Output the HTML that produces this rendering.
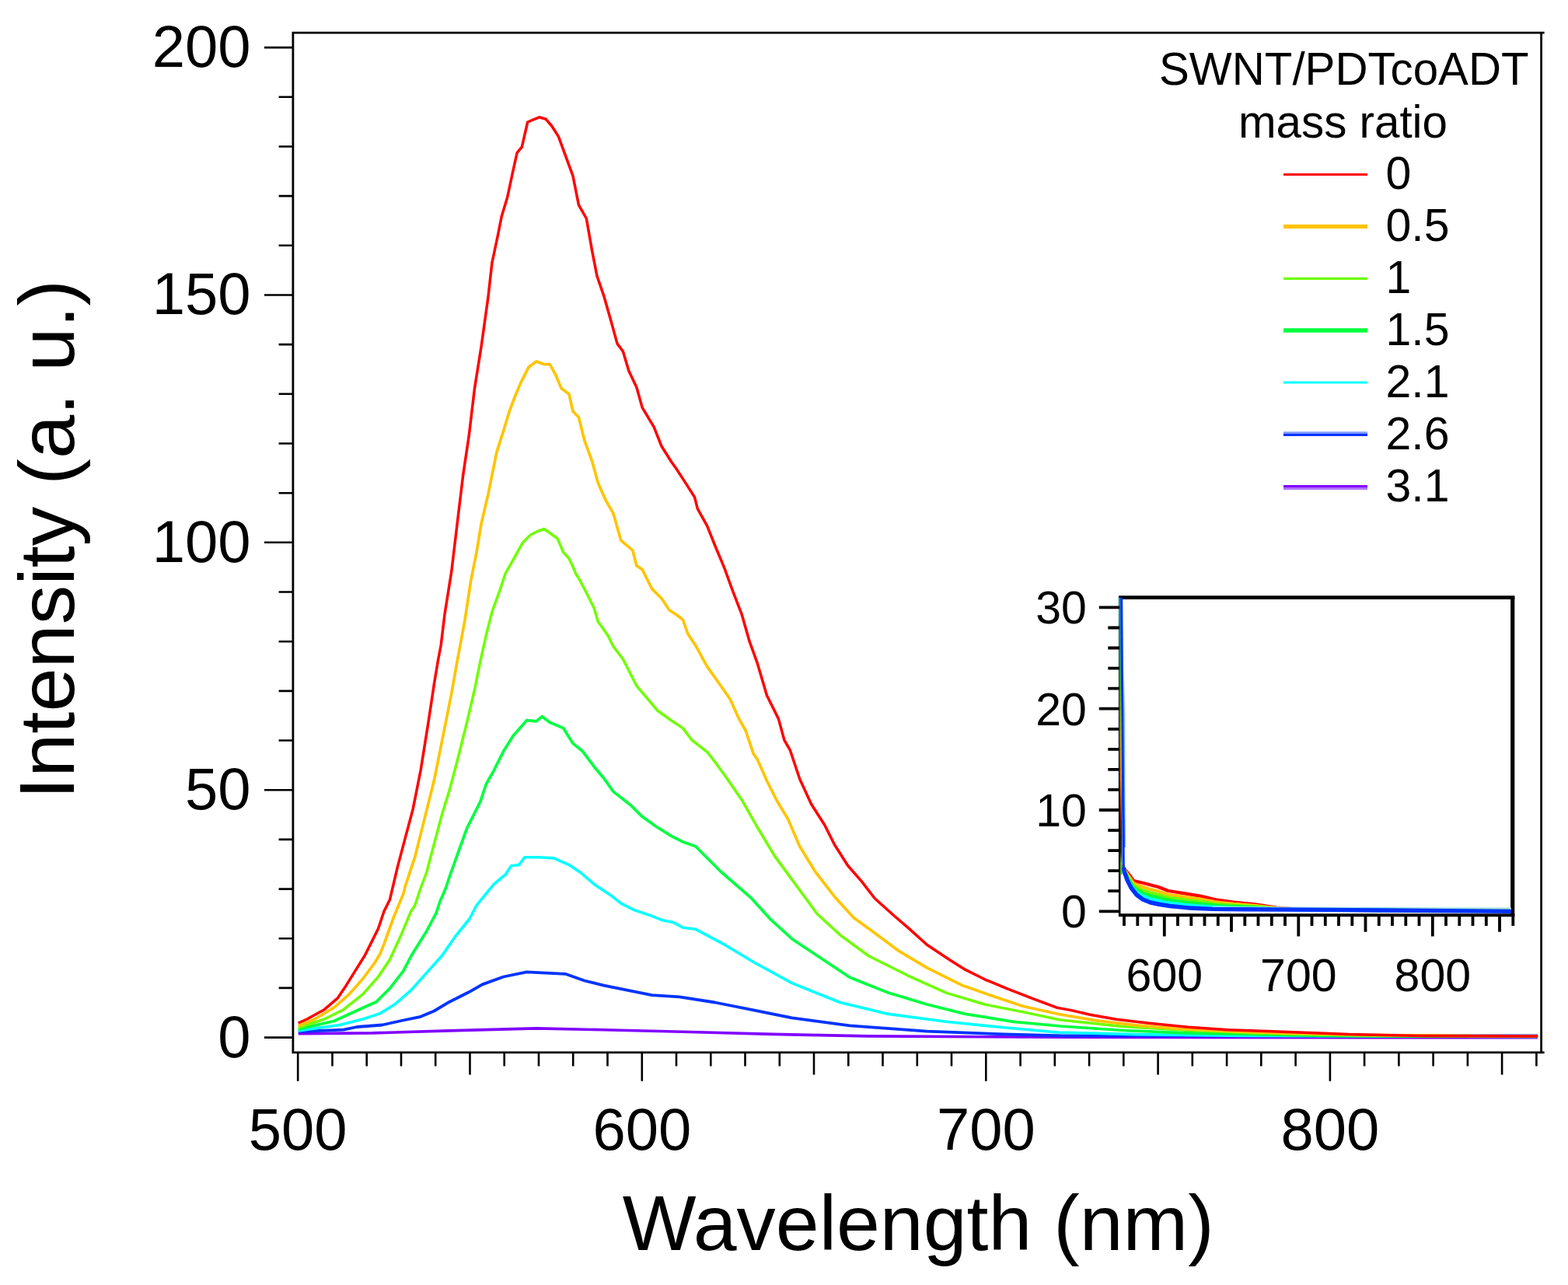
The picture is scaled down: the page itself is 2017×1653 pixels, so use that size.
<!DOCTYPE html>
<html><head><meta charset="utf-8"><title>Intensity vs Wavelength</title>
<style>html,body{margin:0;padding:0;background:#fff;}svg{display:block;}</style>
</head><body>
<svg width="2017" height="1653" viewBox="0 0 2017 1653"><rect x="0" y="0" width="2017" height="1653" fill="#fff"/>
<polyline points="383.7,1329.6 479.2,1328.9 578.3,1325.9 689.9,1322.9 776.6,1324.7 878.3,1327.2 994.0,1330.4 1117.9,1332.9 1368.3,1334.2 1978.0,1334.8" fill="none" stroke="#8000ff" stroke-width="3.6" stroke-linejoin="round"/>
<polyline points="383.7,1327.2 442.0,1324.7 459.3,1321.0 491.6,1318.5 516.3,1313.0 541.1,1307.8 558.5,1300.5 578.3,1288.7 603.1,1276.3 620.5,1266.4 647.7,1256.5 677.5,1250.3 702.3,1251.6 727.1,1252.8 751.8,1261.5 776.6,1267.7 813.8,1275.1 838.6,1280.1 874.0,1282.3 919.6,1289.5 969.2,1299.4 1018.7,1309.4 1093.1,1319.3 1192.3,1326.7 1291.4,1330.4 1368.3,1332.3 1978.0,1332.3" fill="none" stroke="#0033ff" stroke-width="3.8" stroke-linejoin="round"/>
<polyline points="383.7,1325.9 437.0,1318.5 466.8,1311.0 489.1,1303.6 508.9,1291.2 528.7,1273.9 548.6,1251.6 568.4,1229.5 585.8,1204.5 604.0,1182.0 613.0,1164.7 635.3,1137.4 650.2,1125.0 657.6,1113.8 667.6,1112.6 675.0,1102.7 692.3,1102.7 712.2,1103.9 732.0,1112.6 746.9,1122.5 764.2,1137.4 786.5,1152.3 798.9,1162.2 816.3,1170.9 838.6,1178.3 851.0,1183.4 866.0,1186.5 878.3,1193.2 894.8,1195.3 932.0,1215.2 969.2,1237.5 1018.7,1264.7 1080.7,1289.5 1142.7,1304.4 1217.0,1314.3 1291.4,1321.8 1360.0,1328.0 1461.1,1330.6 1600.0,1332.5 1978.0,1333.5" fill="none" stroke="#00ffff" stroke-width="3.6" stroke-linejoin="round"/>
<polyline points="383.7,1323.9 429.6,1313.5 461.8,1298.7 484.1,1288.7 501.5,1271.4 518.8,1249.1 528.7,1230.0 548.6,1198.0 561.0,1174.7 565.9,1159.7 573.4,1142.5 578.3,1127.5 590.7,1092.8 600.6,1065.5 618.0,1030.8 625.4,1008.5 635.3,991.1 647.7,966.3 660.1,946.5 677.5,926.7 689.9,927.9 697.3,921.7 707.2,929.2 724.6,936.6 737.0,956.4 749.4,966.3 764.2,986.2 776.6,1001.0 789.0,1018.4 811.3,1035.8 826.2,1050.6 843.6,1063.0 863.4,1075.4 878.3,1082.9 894.8,1088.7 927.0,1121.0 966.8,1155.7 991.5,1182.9 1018.7,1207.7 1055.9,1232.5 1093.1,1257.3 1142.7,1277.1 1192.3,1292.0 1241.8,1304.4 1303.8,1314.3 1364.0,1320.0 1444.3,1325.5 1528.6,1328.9 1700.0,1332.5 1978.0,1333.5" fill="none" stroke="#00ff40" stroke-width="3.7" stroke-linejoin="round"/>
<polyline points="383.7,1322.2 417.2,1311.0 442.0,1298.7 466.8,1278.8 486.6,1256.5 501.5,1234.2 516.3,1202.0 528.7,1172.2 533.7,1164.7 541.1,1142.5 548.6,1122.5 558.5,1085.3 568.4,1048.1 578.3,1015.9 588.2,978.7 600.6,929.2 610.5,887.0 618.0,850.0 625.4,816.9 632.9,787.1 642.8,759.9 650.2,737.5 660.1,720.2 672.5,697.9 682.4,688.0 692.3,683.0 699.8,680.5 707.2,685.5 717.1,692.9 724.6,710.3 731.6,718.0 736.1,727.0 740.5,737.7 745.0,744.8 752.1,758.2 764.2,782.2 769.2,799.5 781.6,816.9 789.0,831.8 801.4,848.0 818.8,882.1 846.0,914.3 863.4,926.7 878.3,936.6 889.8,951.8 909.7,967.3 919.6,980.0 932.0,997.0 954.3,1029.2 974.1,1064.0 996.4,1101.1 1023.7,1138.3 1051.0,1175.5 1080.7,1202.8 1117.9,1230.0 1167.5,1254.8 1217.0,1277.1 1266.6,1292.0 1316.2,1301.9 1364.0,1312.0 1444.3,1320.5 1528.6,1325.5 1612.9,1328.9 1750.0,1332.0 1978.0,1333.3" fill="none" stroke="#6eff00" stroke-width="3.5" stroke-linejoin="round"/>
<polyline points="383.7,1319.7 404.8,1311.0 429.6,1296.2 449.4,1278.8 466.8,1259.0 481.6,1239.2 489.1,1226.6 494.0,1214.4 506.4,1180.0 518.8,1149.9 521.3,1139.9 533.7,1102.7 546.1,1053.1 558.5,1003.5 570.9,941.5 580.8,892.0 588.2,850.0 592.0,830.0 598.1,797.0 605.6,747.5 613.0,710.3 619.2,673.1 627.9,635.9 632.9,611.1 639.0,581.4 647.7,554.1 655.2,529.3 662.6,509.5 670.0,492.1 680.0,472.3 689.9,464.9 699.8,468.6 707.2,468.6 714.7,482.2 722.1,499.6 732.0,507.0 737.0,529.3 744.4,536.8 751.8,566.5 761.8,593.8 769.2,621.0 779.1,643.4 789.0,660.7 798.9,695.4 813.8,707.8 818.8,727.6 826.2,732.6 838.6,757.4 851.0,769.8 860.9,784.7 870.0,790.7 878.3,797.0 884.9,815.5 894.8,830.4 909.7,857.6 922.1,875.0 939.4,899.8 949.3,922.1 959.2,940.0 969.2,969.7 974.1,976.6 986.5,1004.5 998.9,1029.2 1013.8,1054.0 1028.7,1088.7 1048.5,1121.0 1073.3,1153.2 1098.1,1180.5 1125.3,1200.3 1155.1,1222.6 1192.3,1244.9 1236.9,1267.2 1279.0,1282.1 1316.2,1294.5 1364.0,1305.0 1410.6,1312.9 1461.1,1318.8 1511.7,1323.0 1579.2,1326.4 1646.6,1328.9 1750.0,1331.5 1978.0,1333.0" fill="none" stroke="#ffc400" stroke-width="3.7" stroke-linejoin="round"/>
<polyline points="383.7,1316.0 394.9,1311.0 417.2,1298.7 434.5,1283.8 444.5,1268.9 456.8,1249.1 469.2,1229.2 479.2,1209.4 486.6,1194.5 494.0,1172.2 501.5,1157.2 511.4,1115.1 521.3,1077.9 531.2,1040.7 541.1,991.1 551.0,929.2 558.5,879.6 563.4,850.0 567.2,830.0 572.1,789.6 580.8,735.1 588.2,673.1 595.7,611.1 603.1,561.6 610.5,499.6 619.2,445.0 627.9,382.6 632.9,338.0 640.3,303.3 645.2,278.5 652.7,253.7 660.1,219.0 665.1,196.7 671.3,189.2 678.7,157.0 687.4,153.3 693.6,150.8 702.3,153.3 709.7,162.0 718.4,175.6 727.0,199.2 737.0,226.4 744.4,263.6 754.3,281.0 761.7,323.1 768.0,355.3 776.6,380.1 786.5,414.8 794.0,442.1 801.4,452.0 808.9,477.3 818.8,498.0 826.2,524.4 841.1,549.2 851.0,574.0 863.4,593.8 870.0,603.0 882.4,622.1 893.5,639.5 897.3,654.4 909.7,676.7 919.6,701.5 932.0,731.2 941.9,758.5 954.3,790.7 964.2,825.4 974.1,852.7 986.5,894.8 1001.4,924.6 1008.8,951.8 1016.3,964.8 1028.7,1002.0 1043.5,1034.2 1060.9,1061.5 1073.3,1086.3 1090.6,1113.5 1108.0,1133.4 1125.3,1155.7 1150.1,1178.0 1167.5,1192.9 1192.3,1215.2 1222.0,1235.0 1241.8,1247.4 1266.6,1259.8 1296.4,1272.2 1328.6,1284.6 1360.0,1296.4 1376.9,1299.4 1402.1,1305.3 1435.9,1311.2 1478.0,1316.2 1528.6,1321.3 1579.2,1324.7 1629.7,1326.4 1697.2,1328.9 1734.8,1330.5 1828.5,1332.4 1978.4,1333.0" fill="none" stroke="#ff0000" stroke-width="3.5" stroke-linejoin="round"/>
<path d="M376.9,41.0 V1355.1 M375.59999999999997,42.2 H1986.6 M1982.6,42.2 V1353.8 M375.59999999999997,1353.8 H1986.6" stroke="#000" stroke-width="2.8" fill="none"/>
<path d="M340,1334.6 H376.9 M358.6,1270.9 H376.9 M358.6,1207.2 H376.9 M358.6,1143.6 H376.9 M358.6,1079.9 H376.9 M340,1016.2 H376.9 M358.6,952.5 H376.9 M358.6,888.9 H376.9 M358.6,825.2 H376.9 M358.6,761.5 H376.9 M340,697.8 H376.9 M358.6,634.2 H376.9 M358.6,570.5 H376.9 M358.6,506.8 H376.9 M358.6,443.1 H376.9 M340,379.5 H376.9 M358.6,315.8 H376.9 M358.6,252.1 H376.9 M358.6,188.5 H376.9 M358.6,124.8 H376.9 M340,61.1 H376.9 M383.2,1353.8 V1390.7 M427.5,1353.8 V1371.5 M471.7,1353.8 V1371.5 M516.0,1353.8 V1371.5 M560.2,1353.8 V1371.5 M604.5,1353.8 V1382.4 M648.7,1353.8 V1371.5 M693.0,1353.8 V1371.5 M737.2,1353.8 V1371.5 M781.5,1353.8 V1371.5 M825.8,1353.8 V1390.7 M870.0,1353.8 V1371.5 M914.3,1353.8 V1371.5 M958.5,1353.8 V1371.5 M1002.8,1353.8 V1371.5 M1047.0,1353.8 V1382.4 M1091.3,1353.8 V1371.5 M1135.5,1353.8 V1371.5 M1179.8,1353.8 V1371.5 M1224.0,1353.8 V1371.5 M1268.3,1353.8 V1390.7 M1312.6,1353.8 V1371.5 M1356.8,1353.8 V1371.5 M1401.1,1353.8 V1371.5 M1445.3,1353.8 V1371.5 M1489.6,1353.8 V1382.4 M1533.8,1353.8 V1371.5 M1578.1,1353.8 V1371.5 M1622.3,1353.8 V1371.5 M1666.6,1353.8 V1371.5 M1710.9,1353.8 V1390.7 M1755.1,1353.8 V1371.5 M1799.4,1353.8 V1371.5 M1843.6,1353.8 V1371.5 M1887.9,1353.8 V1371.5 M1932.1,1353.8 V1382.4 M1976.4,1353.8 V1371.5" stroke="#000" stroke-width="2.6" fill="none"/>
<text x="322.6" y="1359.5" text-anchor="end" font-size="76" style="font-family:'Liberation Sans',Arial,Helvetica,sans-serif">0</text>
<text x="322.6" y="1041.1" text-anchor="end" font-size="76" style="font-family:'Liberation Sans',Arial,Helvetica,sans-serif">50</text>
<text x="322.6" y="722.7" text-anchor="end" font-size="76" style="font-family:'Liberation Sans',Arial,Helvetica,sans-serif">100</text>
<text x="322.6" y="404.4" text-anchor="end" font-size="76" style="font-family:'Liberation Sans',Arial,Helvetica,sans-serif">150</text>
<text x="322.6" y="86.0" text-anchor="end" font-size="76" style="font-family:'Liberation Sans',Arial,Helvetica,sans-serif">200</text>
<text x="383.2" y="1479" text-anchor="middle" font-size="76" style="font-family:'Liberation Sans',Arial,Helvetica,sans-serif">500</text>
<text x="825.8" y="1479" text-anchor="middle" font-size="76" style="font-family:'Liberation Sans',Arial,Helvetica,sans-serif">600</text>
<text x="1268.3" y="1479" text-anchor="middle" font-size="76" style="font-family:'Liberation Sans',Arial,Helvetica,sans-serif">700</text>
<text x="1710.9" y="1479" text-anchor="middle" font-size="76" style="font-family:'Liberation Sans',Arial,Helvetica,sans-serif">800</text>
<text x="1181.2" y="1607.9" text-anchor="middle" font-size="101" textLength="761" lengthAdjust="spacingAndGlyphs" style="font-family:'Liberation Sans',Arial,Helvetica,sans-serif">Wavelength (nm)</text>
<text transform="translate(95,693.9) rotate(-90)" x="0" y="0" text-anchor="middle" font-size="101" style="font-family:'Liberation Sans',Arial,Helvetica,sans-serif">Intensity (a. u.)</text>
<text x="1491" y="108.5" font-size="59.5" textLength="475.5" lengthAdjust="spacingAndGlyphs" style="font-family:'Liberation Sans',Arial,Helvetica,sans-serif">SWNT/PDTcoADT</text>
<text x="1593" y="176.5" font-size="59.5" textLength="269" lengthAdjust="spacingAndGlyphs" style="font-family:'Liberation Sans',Arial,Helvetica,sans-serif">mass ratio</text>
<line x1="1651" y1="224.5" x2="1759" y2="224.5" stroke="#ff0000" stroke-width="3"/>
<text x="1782.5" y="243.2" font-size="59" style="font-family:'Liberation Sans',Arial,Helvetica,sans-serif">0</text>
<line x1="1651" y1="291.3" x2="1759" y2="291.3" stroke="#ffc400" stroke-width="5.2"/>
<text x="1782.5" y="310.2" font-size="59" style="font-family:'Liberation Sans',Arial,Helvetica,sans-serif">0.5</text>
<line x1="1651" y1="358.3" x2="1759" y2="358.3" stroke="#6eff00" stroke-width="3.3"/>
<text x="1782.5" y="377.2" font-size="59" style="font-family:'Liberation Sans',Arial,Helvetica,sans-serif">1</text>
<line x1="1651" y1="425.0" x2="1759" y2="425.0" stroke="#00ff40" stroke-width="5.5"/>
<text x="1782.5" y="444.2" font-size="59" style="font-family:'Liberation Sans',Arial,Helvetica,sans-serif">1.5</text>
<line x1="1651" y1="492.0" x2="1759" y2="492.0" stroke="#00ffff" stroke-width="3"/>
<text x="1782.5" y="511.2" font-size="59" style="font-family:'Liberation Sans',Arial,Helvetica,sans-serif">2.1</text>
<line x1="1651" y1="556.6" x2="1759" y2="556.6" stroke="#809cff" stroke-width="2.6"/>
<line x1="1651" y1="559.6" x2="1759" y2="559.6" stroke="#0033ff" stroke-width="3"/>
<text x="1782.5" y="578.2" font-size="59" style="font-family:'Liberation Sans',Arial,Helvetica,sans-serif">2.6</text>
<line x1="1651" y1="628.6" x2="1759" y2="628.6" stroke="#b070ff" stroke-width="2.8"/>
<line x1="1651" y1="625.6" x2="1759" y2="625.6" stroke="#8000ff" stroke-width="3.2"/>
<text x="1782.5" y="645.2" font-size="59" style="font-family:'Liberation Sans',Arial,Helvetica,sans-serif">3.1</text>
<rect x="1440.2" y="768.6" width="505.5" height="408.6" fill="#fff"/>
<path d="M1439.2,768.6 H1948.4" stroke="#000" stroke-width="4.6" fill="none"/>
<path d="M1945.7,768.6 V1177.2" stroke="#000" stroke-width="5.2" fill="none"/>
<path d="M1439.0,1177.2 H1948.4" stroke="#000" stroke-width="4" fill="none"/>
<path d="M1440.2,767.6 V1178.7" stroke="#000" stroke-width="2.6" fill="none"/>
<polyline points="1446.0,1117.0 1450.0,1122.0 1454.0,1127.0 1458.0,1133.0 1471.0,1136.0 1490.0,1141.0 1503.0,1146.0 1524.1,1149.4 1545.0,1152.9 1565.8,1157.7 1586.6,1160.5 1614.4,1163.3 1642.1,1167.5 1669.9,1169.5 1700.0,1170.6 1800.0,1171.2 1944.0,1171.4" fill="none" stroke="#ff0000" stroke-width="4.2" stroke-linejoin="round"/>
<polyline points="1444.1,1112.0 1448.0,1121.2 1450.0,1124.5 1454.0,1130.2 1455.0,1131.9 1458.0,1136.2 1460.0,1137.2 1462.0,1138.2 1466.0,1139.6 1470.0,1141.1 1471.0,1141.3 1472.0,1141.6 1478.0,1143.4 1480.0,1144.0 1484.0,1145.0 1490.0,1146.5 1492.0,1147.2 1496.0,1148.5 1502.0,1150.5 1503.0,1150.8 1505.0,1151.1 1508.0,1151.6 1514.0,1152.4 1520.0,1153.3 1524.1,1153.9 1526.0,1154.2 1530.0,1154.8 1532.0,1155.1 1538.0,1155.9 1544.0,1156.7 1545.0,1156.9 1550.0,1157.8 1556.0,1158.9 1560.0,1159.6 1562.0,1160.0 1565.8,1160.6 1568.0,1160.9 1574.0,1161.5 1580.0,1162.1 1586.0,1162.7 1586.6,1162.8 1592.0,1163.2 1598.0,1163.7 1600.0,1163.8 1604.0,1164.1 1610.0,1164.6 1614.4,1164.9 1616.0,1165.1 1622.0,1165.8 1628.0,1166.5 1634.0,1167.2 1640.0,1167.9 1642.1,1168.1 1646.0,1168.4 1652.0,1168.7 1658.0,1169.0 1664.0,1169.4 1669.9,1169.7 1670.0,1169.7 1676.0,1169.9 1682.0,1170.0 1688.0,1170.2 1694.0,1170.4 1700.0,1170.5 1800.0,1171.2 1944.0,1171.7" fill="none" stroke="#ffc400" stroke-width="4.2" stroke-linejoin="round"/>
<polyline points="1443.7,1114.0 1448.0,1122.6 1450.0,1126.5 1454.0,1132.8 1455.0,1134.6 1458.0,1138.8 1460.0,1140.2 1462.0,1141.6 1466.0,1143.5 1470.0,1145.3 1471.0,1145.6 1472.0,1146.0 1478.0,1147.9 1480.0,1148.6 1484.0,1149.5 1490.0,1150.9 1492.0,1151.5 1496.0,1152.7 1502.0,1154.4 1503.0,1154.6 1505.0,1155.0 1508.0,1155.4 1514.0,1156.2 1520.0,1157.0 1524.1,1157.5 1526.0,1157.8 1530.0,1158.3 1532.0,1158.5 1538.0,1159.2 1544.0,1159.9 1545.0,1160.0 1550.0,1160.7 1556.0,1161.6 1560.0,1162.2 1562.0,1162.5 1565.8,1163.0 1568.0,1163.2 1574.0,1163.6 1580.0,1164.1 1586.0,1164.6 1586.6,1164.6 1592.0,1164.9 1598.0,1165.3 1600.0,1165.4 1604.0,1165.7 1610.0,1166.0 1614.4,1166.3 1616.0,1166.4 1622.0,1166.9 1628.0,1167.4 1634.0,1168.0 1640.0,1168.5 1642.1,1168.6 1646.0,1168.8 1652.0,1169.1 1658.0,1169.3 1664.0,1169.6 1669.9,1169.8 1670.0,1169.8 1676.0,1170.0 1682.0,1170.1 1688.0,1170.2 1694.0,1170.4 1700.0,1170.5 1800.0,1171.2 1944.0,1171.9" fill="none" stroke="#6eff00" stroke-width="4.2" stroke-linejoin="round"/>
<polyline points="1443.3,1116.0 1448.0,1123.7 1450.0,1128.2 1454.0,1135.1 1455.0,1136.9 1458.0,1141.0 1460.0,1142.7 1462.0,1144.5 1466.0,1146.7 1470.0,1148.9 1471.0,1149.3 1472.0,1149.6 1478.0,1151.7 1480.0,1152.4 1484.0,1153.3 1490.0,1154.7 1492.0,1155.2 1496.0,1156.2 1502.0,1157.7 1503.0,1157.9 1505.0,1158.2 1508.0,1158.6 1514.0,1159.3 1520.0,1160.1 1524.1,1160.6 1526.0,1160.8 1530.0,1161.3 1532.0,1161.5 1538.0,1162.0 1544.0,1162.6 1545.0,1162.7 1550.0,1163.3 1556.0,1164.0 1560.0,1164.4 1562.0,1164.6 1565.8,1165.0 1568.0,1165.1 1574.0,1165.5 1580.0,1165.8 1586.0,1166.1 1586.6,1166.2 1592.0,1166.4 1598.0,1166.7 1600.0,1166.8 1604.0,1166.9 1610.0,1167.2 1614.4,1167.4 1616.0,1167.5 1622.0,1167.8 1628.0,1168.2 1634.0,1168.6 1640.0,1169.0 1642.1,1169.1 1646.0,1169.2 1652.0,1169.4 1658.0,1169.6 1664.0,1169.8 1669.9,1169.9 1670.0,1169.9 1676.0,1170.1 1682.0,1170.2 1688.0,1170.3 1694.0,1170.4 1700.0,1170.5 1800.0,1171.2 1944.0,1172.0" fill="none" stroke="#00ff40" stroke-width="4.2" stroke-linejoin="round"/>
<polyline points="1442.9,1118.0 1448.0,1124.9 1450.0,1130.0 1454.0,1137.4 1455.0,1139.3 1458.0,1143.3 1460.0,1145.4 1462.0,1147.6 1466.0,1150.2 1470.0,1152.8 1471.0,1153.1 1472.0,1153.5 1478.0,1155.7 1480.0,1156.5 1484.0,1157.4 1490.0,1158.7 1492.0,1159.2 1496.0,1160.0 1502.0,1161.2 1503.0,1161.4 1505.0,1161.7 1508.0,1162.0 1514.0,1162.7 1520.0,1163.3 1524.1,1163.8 1526.0,1164.0 1530.0,1164.5 1532.0,1164.6 1538.0,1165.0 1544.0,1165.5 1545.0,1165.5 1550.0,1166.0 1556.0,1166.5 1560.0,1166.8 1562.0,1166.9 1565.8,1167.1 1568.0,1167.2 1574.0,1167.4 1580.0,1167.6 1586.0,1167.8 1586.6,1167.8 1592.0,1168.0 1598.0,1168.2 1600.0,1168.2 1604.0,1168.3 1610.0,1168.5 1614.4,1168.6 1616.0,1168.6 1622.0,1168.8 1628.0,1169.0 1634.0,1169.3 1640.0,1169.5 1642.1,1169.5 1646.0,1169.6 1652.0,1169.7 1658.0,1169.8 1664.0,1170.0 1669.9,1170.1 1670.0,1170.1 1676.0,1170.1 1682.0,1170.2 1688.0,1170.3 1694.0,1170.4 1700.0,1170.4 1800.0,1171.2 1944.0,1172.2" fill="none" stroke="#00ffff" stroke-width="4.2" stroke-linejoin="round"/>
<polyline points="1560,1167.2 1944,1168.6" fill="none" stroke="#a0e0e0" stroke-width="2.2"/>
<polyline points="1445.2,1116.0 1446.5,1122.0 1450.0,1132.0 1455.0,1142.0 1462.0,1151.0 1470.0,1157.0 1480.0,1161.0 1492.0,1163.5 1505.0,1165.5 1530.0,1168.0 1560.0,1169.4 1600.0,1169.8 1700.0,1170.4 1944.0,1172.4" fill="none" stroke="#0033ff" stroke-width="5.4" stroke-linejoin="round"/>
<defs><linearGradient id="vg" x1="0" y1="0" x2="0" y2="1"><stop offset="0" stop-color="#00a08c"/><stop offset="0.17" stop-color="#00a070"/><stop offset="0.28" stop-color="#20b030"/><stop offset="0.48" stop-color="#8c9c00"/><stop offset="0.65" stop-color="#d07010"/><stop offset="0.79" stop-color="#802000"/><stop offset="0.87" stop-color="#282010"/><stop offset="0.92" stop-color="#283010"/><stop offset="0.96" stop-color="#60b010"/><stop offset="1" stop-color="#40c020"/></linearGradient><linearGradient id="lb" x1="0" y1="0" x2="0" y2="1"><stop offset="0" stop-color="#fff"/><stop offset="0.25" stop-color="#88c4f4"/><stop offset="0.75" stop-color="#5cb0f0"/><stop offset="1" stop-color="#3070ff"/></linearGradient></defs>
<polygon points="1438.9,768.8 1441.2,768.8 1443.4,1125 1441.1,1125" fill="url(#vg)"/>
<polygon points="1444.2,860 1447.2,860 1447.6,1090 1444.6,1090" fill="url(#lb)"/>
<polygon points="1441.2,768.8 1444.2,768.8 1446.9,1118 1443.7,1118" fill="#0033ff"/>
<path d="M1413.8,1172.3 H1440.2 M1425.3,1146.2 H1440.2 M1425.3,1120.2 H1440.2 M1425.3,1094.1 H1440.2 M1425.3,1068.1 H1440.2 M1413.8,1042.0 H1440.2 M1425.3,1015.9 H1440.2 M1425.3,989.9 H1440.2 M1425.3,963.8 H1440.2 M1425.3,937.8 H1440.2 M1413.8,911.7 H1440.2 M1425.3,885.6 H1440.2 M1425.3,859.6 H1440.2 M1425.3,833.5 H1440.2 M1425.3,807.5 H1440.2 M1413.8,781.4 H1440.2 M1446.0,1177.2 V1191.1 M1463.3,1177.2 V1191.1 M1480.5,1177.2 V1191.1 M1497.8,1177.2 V1204.5 M1515.0,1177.2 V1191.1 M1532.3,1177.2 V1191.1 M1549.5,1177.2 V1191.1 M1566.8,1177.2 V1191.1 M1584.0,1177.2 V1198.7 M1601.3,1177.2 V1191.1 M1618.5,1177.2 V1191.1 M1635.8,1177.2 V1191.1 M1653.0,1177.2 V1191.1 M1670.3,1177.2 V1204.5 M1687.5,1177.2 V1191.1 M1704.8,1177.2 V1191.1 M1722.0,1177.2 V1191.1 M1739.3,1177.2 V1191.1 M1756.5,1177.2 V1198.7 M1773.8,1177.2 V1191.1 M1791.0,1177.2 V1191.1 M1808.3,1177.2 V1191.1 M1825.5,1177.2 V1191.1 M1842.8,1177.2 V1204.5 M1860.0,1177.2 V1191.1 M1877.3,1177.2 V1191.1 M1894.5,1177.2 V1191.1 M1911.8,1177.2 V1191.1 M1929.0,1177.2 V1198.7 M1946.3,1177.2 V1191.1" stroke="#000" stroke-width="3.8" fill="none"/>
<text x="1397.8" y="1193.3" text-anchor="end" font-size="59" style="font-family:'Liberation Sans',Arial,Helvetica,sans-serif">0</text>
<text x="1397.8" y="1063.0" text-anchor="end" font-size="59" style="font-family:'Liberation Sans',Arial,Helvetica,sans-serif">10</text>
<text x="1397.8" y="932.7" text-anchor="end" font-size="59" style="font-family:'Liberation Sans',Arial,Helvetica,sans-serif">20</text>
<text x="1397.8" y="802.4" text-anchor="end" font-size="59" style="font-family:'Liberation Sans',Arial,Helvetica,sans-serif">30</text>
<text x="1497.8" y="1275" text-anchor="middle" font-size="59" style="font-family:'Liberation Sans',Arial,Helvetica,sans-serif">600</text>
<text x="1670.3" y="1275" text-anchor="middle" font-size="59" style="font-family:'Liberation Sans',Arial,Helvetica,sans-serif">700</text>
<text x="1842.8" y="1275" text-anchor="middle" font-size="59" style="font-family:'Liberation Sans',Arial,Helvetica,sans-serif">800</text></svg>
</body></html>
